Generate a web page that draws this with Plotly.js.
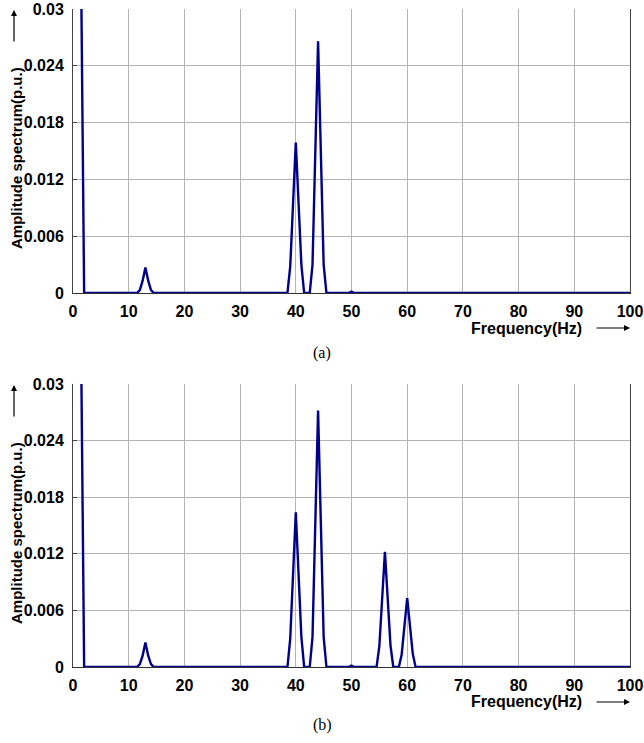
<!DOCTYPE html>
<html>
<head>
<meta charset="utf-8">
<script src="https://cdn.plot.ly/plotly-3.0.1.min.js"></script>
<style>html,body{margin:0;padding:0;background:#fff}</style>
</head>
<body>
<div id="chart" style="width:644px;height:743px"></div>
<script>
// Amplitude spectra of two cases, (a) and (b)
const freqA = [1.5, 2, 11.5, 12, 12.5, 13, 13.5, 14, 14.5, 38.5, 39, 40, 41, 41.5, 42.5, 43, 44, 45, 45.5, 49.5, 50, 50.5, 100];
const ampA  = [0.031, 0, 0, 0.0003, 0.0013, 0.0027, 0.0013, 0.0003, 0, 0, 0.0028, 0.0159, 0.003, 0, 0, 0.003, 0.0266, 0.003, 0, 0, 0.00015, 0, 0];

const freqB = [1.5, 2, 11.5, 12, 12.5, 13, 13.5, 14, 14.5, 38.5, 39, 40, 41, 41.5, 42.5, 43, 44, 45, 45.5, 49.5, 50, 50.5, 54.5, 55, 56, 57, 57.5, 58.5, 59, 60, 61, 61.5, 100];
const ampB  = [0.031, 0, 0, 0.0003, 0.0012, 0.0026, 0.0012, 0.0003, 0, 0, 0.003, 0.0164, 0.0032, 0, 0, 0.0032, 0.0272, 0.0032, 0, 0, 0.00015, 0, 0, 0.0022, 0.0122, 0.0023, 0, 0, 0.0013, 0.0073, 0.0014, 0, 0];

const xTicks = [0, 10, 20, 30, 40, 50, 60, 70, 80, 90, 100];
const xTickText = ['0', '10', '20', '30', '40', '50', '60', '70', '80', '90', '100'];
const yTicks = [0, 0.006, 0.012, 0.018, 0.024, 0.03];
const yTickText = ['0', '0.006', '0.012', '0.018', '0.024', '0.03'];

const yTitle = 'Amplitude spectrum(p.u.)';
const xTitle = 'Frequency(Hz)';
const panelLabels = ['(a)', '(b)'];

// page geometry (pixels) and converters to paper coordinates
const W = 644, H = 743, L = 73, R = 14, T = 9, B = 76;
const px = x => (x - L) / (W - L - R);
const py = y => (H - B - y) / (H - T - B);

const lineColor = '#00008b';
const gridColor = '#b4b4b4';
const sans = 'Liberation Sans, Arial, sans-serif';
const tickFont = {family: sans, size: 16, color: '#000', weight: 'bold'};

const traces = [
  {x: freqA, y: ampA, xaxis: 'x', yaxis: 'y', mode: 'lines',
   line: {color: lineColor, width: 2.4}, hoverinfo: 'skip'},
  {x: freqB, y: ampB, xaxis: 'x2', yaxis: 'y2', mode: 'lines',
   line: {color: lineColor, width: 2.4}, hoverinfo: 'skip'}
];

function xAxis(anchor) {
  return {anchor: anchor, domain: [0, 1], range: [0, 100], tickmode: 'array',
    tickvals: xTicks, ticktext: xTickText, showgrid: true, gridcolor: gridColor,
    gridwidth: 1, zeroline: false, showline: true, linecolor: '#333', linewidth: 1,
    ticks: '', tickfont: tickFont, ticklabelstandoff: 4, fixedrange: true};
}
function yAxis(anchor, domain) {
  return {anchor: anchor, domain: domain, range: [0, 0.03], tickmode: 'array',
    tickvals: yTicks, ticktext: yTickText, showgrid: true, gridcolor: gridColor,
    gridwidth: 1, zeroline: false, showline: true, mirror: true, linecolor: '#444',
    linewidth: 1, ticks: 'inside', ticklen: 4, tickcolor: '#444',
    tickfont: tickFont, ticklabelstandoff: 5, fixedrange: true};
}

const titleFont = {family: sans, size: 15, color: '#000', weight: 'bold'};
const annotations = [];
// per-panel: [plot top px, plot bottom px, panel label y px]
const panels = [[9, 293, 353], [384, 667, 725]];
panels.forEach((p, i) => {
  const top = p[0], bottom = p[1];
  annotations.push({xref: 'paper', yref: 'paper', x: px(16), y: py(top + 149),
    text: yTitle, textangle: -90, showarrow: false, font: titleFont,
    xanchor: 'center', yanchor: 'middle'});
  annotations.push({xref: 'paper', yref: 'paper', x: px(14), y: py(top + 1),
    text: '', showarrow: true, ax: 0, ay: 33, arrowhead: 2, arrowsize: 1,
    arrowwidth: 1.2, arrowcolor: '#000'});
  annotations.push({xref: 'paper', yref: 'paper', x: px(526), y: py(bottom + 35),
    text: xTitle, showarrow: false, font: {family: sans, size: 16, color: '#000', weight: 'bold'},
    xanchor: 'center', yanchor: 'middle'});
  annotations.push({xref: 'paper', yref: 'paper', x: px(630), y: py(bottom + 35),
    text: '', showarrow: true, ax: -35, ay: 0, arrowhead: 2, arrowsize: 1,
    arrowwidth: 1.2, arrowcolor: '#000'});
  annotations.push({xref: 'paper', yref: 'paper', x: px(322), y: py(p[2]),
    text: panelLabels[i], showarrow: false,
    font: {family: 'Liberation Serif, Times New Roman, serif', size: 16, color: '#000'},
    xanchor: 'center', yanchor: 'middle'});
});

const layout = {
  width: W, height: H,
  margin: {l: L, r: R, t: T, b: B, pad: 0},
  paper_bgcolor: '#fff', plot_bgcolor: '#fff',
  showlegend: false,
  xaxis: xAxis('y'),
  yaxis: yAxis('x', [py(293), 1]),
  xaxis2: xAxis('y2'),
  yaxis2: yAxis('x2', [0, py(384)]),
  annotations: annotations
};

Plotly.newPlot('chart', traces, layout, {staticPlot: true, displayModeBar: false});
</script>
</body>
</html>
